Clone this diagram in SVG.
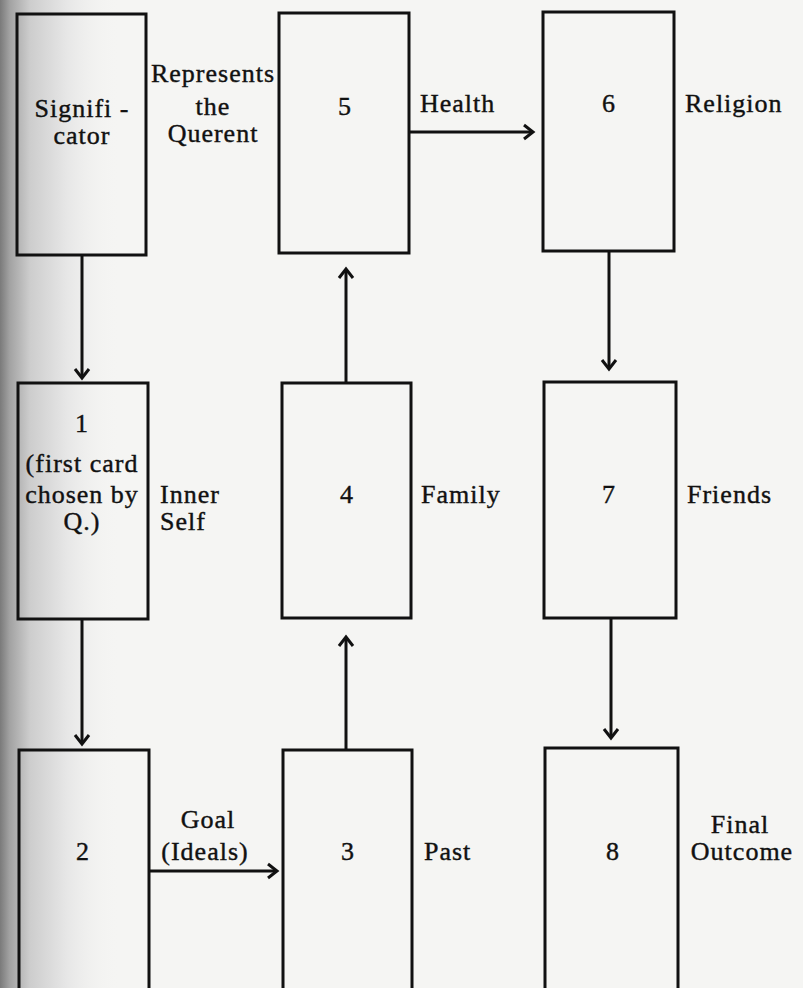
<svg xmlns="http://www.w3.org/2000/svg" width="803" height="988" viewBox="0 0 803 988">
<defs>
<linearGradient id="shade" x1="0" y1="0" x2="1" y2="0">
<stop offset="0" stop-color="#7a7a7a"/>
<stop offset="0.08" stop-color="#a2a2a2"/>
<stop offset="0.25" stop-color="#cdcdcd"/>
<stop offset="0.55" stop-color="#e6e6e6"/>
<stop offset="1" stop-color="#f5f5f3" stop-opacity="0"/>
</linearGradient>
<marker id="arr" viewBox="-11 -9 14 18" markerWidth="14" markerHeight="18" refX="0" refY="0" orient="auto" markerUnits="userSpaceOnUse">
<path d="M-9,-7 L0,0 L-9,7" fill="none" stroke="#111" stroke-width="3" stroke-linejoin="miter"/>
</marker>
<style>
.card{fill:none;stroke:#111;stroke-width:3}
.t{font-family:"Liberation Serif","Times New Roman",serif;font-size:26px;fill:#111;stroke:#111;stroke-width:0.4;letter-spacing:1px}
.m{text-anchor:middle}
.c{stroke:#111;stroke-width:3;fill:none;marker-end:url(#arr)}
</style>
</defs>
<rect x="0" y="0" width="803" height="988" fill="#f5f5f3"/>
<rect x="0" y="0" width="120" height="988" fill="url(#shade)"/>

<g id="connectors">
<line class="c" x1="82" y1="255" x2="82" y2="378"/>
<line class="c" x1="82" y1="619" x2="82" y2="744"/>
<line class="c" x1="149" y1="871" x2="277" y2="871"/>
<line class="c" x1="346" y1="750" x2="346" y2="637"/>
<line class="c" x1="346" y1="383" x2="346" y2="269"/>
<line class="c" x1="409" y1="132" x2="533" y2="132"/>
<line class="c" x1="609" y1="251" x2="609" y2="369"/>
<line class="c" x1="611" y1="618" x2="611" y2="738"/>
</g>

<g id="significator">
<rect class="card" x="17" y="14" width="129" height="241"/>
<text class="t m" x="82" y="117">Signifi -<tspan x="82" dy="27">cator</tspan></text>
<text class="t m" x="213" y="82">Represents<tspan x="213" dy="33">the</tspan><tspan x="213" dy="27">Querent</tspan></text>
</g>

<g id="card5">
<rect class="card" x="279" y="13" width="130" height="240"/>
<text class="t m" x="345" y="115">5</text>
<text class="t" x="420" y="112">Health</text>
</g>

<g id="card6">
<rect class="card" x="543" y="12" width="131" height="239"/>
<text class="t m" x="609" y="112">6</text>
<text class="t" x="685" y="112">Religion</text>
</g>

<g id="card1">
<rect class="card" x="18" y="383" width="130" height="236"/>
<text class="t m" x="82" y="432">1<tspan x="82" dy="40">(first card</tspan><tspan x="82" dy="31">chosen by</tspan><tspan x="82" dy="27">Q.)</tspan></text>
<text class="t" x="160" y="503">Inner<tspan x="160" dy="27">Self</tspan></text>
</g>

<g id="card4">
<rect class="card" x="282" y="383" width="129" height="235"/>
<text class="t m" x="347" y="503">4</text>
<text class="t" x="421" y="503">Family</text>
</g>

<g id="card7">
<rect class="card" x="544" y="382" width="132" height="236"/>
<text class="t m" x="609" y="503">7</text>
<text class="t" x="687" y="503">Friends</text>
</g>

<g id="card2">
<rect class="card" x="19" y="750" width="130" height="260"/>
<text class="t m" x="83" y="860">2</text>
<text class="t m" x="208" y="828">Goal<tspan x="205" dy="32">(Ideals)</tspan></text>
</g>

<g id="card3">
<rect class="card" x="283" y="750" width="129" height="260"/>
<text class="t m" x="348" y="860">3</text>
<text class="t" x="424" y="860">Past</text>
</g>

<g id="card8">
<rect class="card" x="545" y="748" width="133" height="260"/>
<text class="t m" x="613" y="860">8</text>
<text class="t m" x="740" y="833">Final<tspan x="742" dy="27">Outcome</tspan></text>
</g>
</svg>
